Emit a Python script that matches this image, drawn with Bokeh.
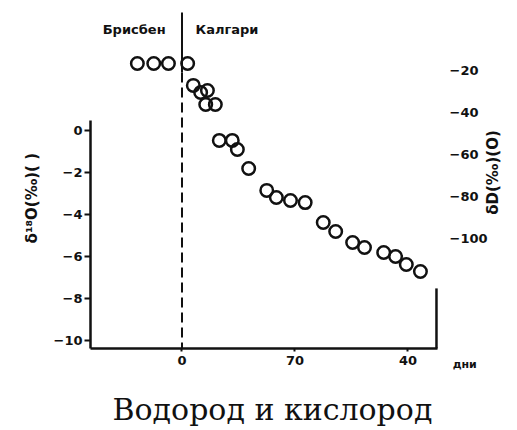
import math
from bokeh.plotting import figure
from bokeh.models import Range1d, LinearAxis, Label, FixedTicker
from bokeh.embed import file_html
from bokeh.resources import INLINE

# ---- data ----
days = [-7.9, -5.0, -2.4, 1.0, 2.0, 3.3, 4.5, 4.2, 5.9, 6.6, 8.9, 9.8, 11.8,
        15.0, 16.7, 19.2, 21.8, 25.0, 27.2, 30.2, 32.3, 35.7, 37.8, 39.7, 42.2]
delta_D = [-16.7, -16.7, -16.7, -16.7, -27.1, -30.5, -29.5, -36.2, -36.2, -53.3,
           -53.3, -57.6, -66.7, -77.1, -80.5, -81.9, -82.9, -92.4, -96.7, -101.9,
           -104.3, -106.7, -108.6, -112.4, -115.7]
x_ticks = [0, 20, 40]
x_tick_labels = ["0", "70", "40"]
o18_ticks = [0, -2, -4, -6, -8, -10]
dD_ticks = [-20, -40, -60, -80, -100]
place_left = "Брисбен"
place_right = "Калгари"
unit_x = "дни"
label_o18 = "δ¹⁸O(‰)(  )"
label_dD = "δD(‰)(O)"
caption = "Водород и кислород"

TICK_FONT = "DejaVu Sans"
INK = "#111111"

# axis extents (data units)
X_LEFT, X_RIGHT = -16.195, 45.22
Y_BOTTOM, Y_SPINE_TOP = -10.381, 0.48

p = figure(width=517, height=430, output_backend="svg", toolbar_location=None,
           x_range=Range1d(-32.124, 59.381), y_range=Range1d(-14.286, 6.190),
           x_axis_location=None, y_axis_location=None, min_border=0)
p.min_border_left = 0
p.min_border_right = 0
p.min_border_top = 0
p.min_border_bottom = 0
p.outline_line_color = None
p.grid.visible = False
p.background_fill_color = "white"
p.border_fill_color = "white"

p.extra_y_ranges = {"dD": Range1d(-191.43, 13.33)}


def style_axis(ax, tick_out, standoff):
    ax.axis_line_width = 2.5
    ax.axis_line_color = INK
    ax.major_tick_line_width = 2
    ax.major_tick_line_color = INK
    ax.major_tick_out = tick_out
    ax.major_tick_in = 0
    ax.minor_tick_line_color = None
    ax.major_label_standoff = standoff
    ax.major_label_text_font = TICK_FONT
    ax.major_label_text_font_style = "bold"
    ax.major_label_text_font_size = "13px"
    ax.major_label_text_color = INK


# left axis (delta 18O)
ya = LinearAxis(ticker=FixedTicker(ticks=o18_ticks), fixed_location=X_LEFT,
                bounds=(Y_BOTTOM, Y_SPINE_TOP))
style_axis(ya, 6, 2)
p.add_layout(ya, "left")

# bottom axis (days)
xa = LinearAxis(ticker=FixedTicker(ticks=x_ticks), fixed_location=Y_BOTTOM,
                bounds=(X_LEFT, X_RIGHT))
xa.major_label_overrides = {t: s for t, s in zip(x_ticks, x_tick_labels)}
style_axis(xa, 3, 5)
p.add_layout(xa, "below")

# right axis (delta D) - labels only
ra = LinearAxis(y_range_name="dD", ticker=FixedTicker(ticks=dD_ticks),
                fixed_location=X_RIGHT)
style_axis(ra, 0, 12)
ra.axis_line_color = None
ra.major_tick_line_color = None
p.add_layout(ra, "right")

# separator between the two places: solid on top, dashed below
p.segment(x0=[0], y0=[5.62], x1=[0], y1=[2.76], line_color=INK, line_width=2)
p.segment(x0=[0], y0=[2.76], x1=[0], y1=[Y_BOTTOM], line_color=INK,
          line_width=2, line_dash="10 5")
# short right-hand frame piece
p.segment(x0=[45.04], y0=[-7.52], x1=[45.04], y1=[Y_BOTTOM], line_color=INK,
          line_width=2.5)

# data points
p.scatter(days, delta_D, y_range_name="dD", marker="circle", size=12.5,
          fill_alpha=0, line_color=INK, line_width=2.5)


def lab(x, y, text, size, align="left", baseline="middle", angle=0.0,
        font=TICK_FONT, style="bold"):
    p.add_layout(Label(x=x, y=y, text=text, text_font=font,
                       text_font_style=style, text_font_size=size,
                       text_color=INK, text_align=align,
                       text_baseline=baseline, angle=angle))


lab(-2.9, 4.81, place_left, "13px", align="right")
lab(2.4, 4.81, place_right, "13px", align="left")
lab(47.9, -11.14, unit_x, "11px", align="left")
lab(-26.6, -3.1, label_o18, "15px", align="center", angle=math.pi / 2)
lab(54.96, -2.0, label_dD, "15px", align="center", angle=math.pi / 2)
lab(-12.3, -13.30, caption, "30px", align="left", baseline="alphabetic",
    font="DejaVu Serif", style="normal")

open("out.html", "w").write(file_html(p, INLINE))
